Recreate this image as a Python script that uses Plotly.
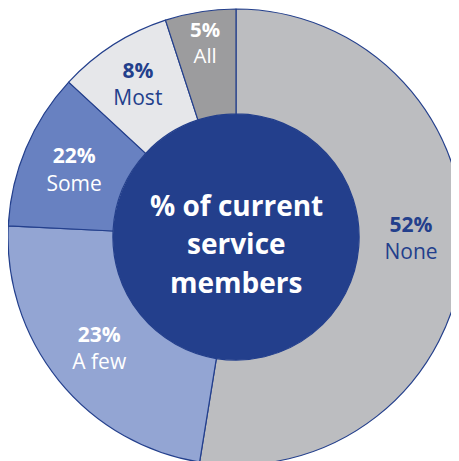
import plotly.graph_objects as go

# Data (slice angles) and printed labels
categories = ["None", "A few", "Some", "Most", "All"]
slice_values = [52.5, 23.2, 11.1, 8.1, 5.0]
pct_labels = ["52%", "23%", "22%", "8%", "5%"]
center_lines = ["% of current", "service", "members"]

slice_colors = ["#bcbdc0", "#93a5d3", "#6881c1", "#e6e7ea", "#9c9c9e"]
text_colors = ["#233f8c", "#ffffff", "#ffffff", "#233f8c", "#ffffff"]
NAVY = "#233f8c"

W, H = 459, 461
# outer ring placement in figure pixels (page adds an 8px body margin)
x0, x1 = 0, 456
y0, y1 = 1, 457
dom_x = [x0 / W, x1 / W]
dom_y = [1 - y1 / H, 1 - y0 / H]
cx = (x0 + x1) / 2
cy = (y0 + y1) / 2
R = (x1 - x0) / 2
hole = 0.54
r_in = R * hole

templates = ["<b>%{customdata}</b><br>%{label}<br> "] + \
            ["<b>%{customdata}</b><br>%{label}"] * 4

fig = go.Figure()
fig.add_trace(go.Pie(
    labels=categories,
    values=slice_values,
    customdata=pct_labels,
    texttemplate=templates,
    textposition="inside",
    insidetextorientation="horizontal",
    insidetextfont=dict(family="Open Sans", size=21, color=text_colors),
    sort=False,
    direction="clockwise",
    rotation=0,
    hole=hole,
    marker=dict(colors=slice_colors, line=dict(color=NAVY, width=1.2)),
    domain=dict(x=dom_x, y=dom_y),
    showlegend=False,
    hoverinfo="label+value",
))
fig.add_trace(go.Pie(
    labels=["center"],
    values=[1],
    textinfo="none",
    sort=False,
    marker=dict(colors=[NAVY], line=dict(width=0)),
    domain=dict(x=[(cx - r_in) / W, (cx + r_in) / W],
                y=[1 - (cy + r_in) / H, 1 - (cy - r_in) / H]),
    showlegend=False,
    hoverinfo="skip",
))

line_y = [197, 235, 274]
for txt, py in zip(center_lines, line_y):
    fig.add_annotation(
        x=cx / W, y=1 - py / H, xref="paper", yref="paper",
        text=f"<b>{txt}</b>", showarrow=False,
        xanchor="center", yanchor="middle",
        font=dict(family="Open Sans", size=28, color="#ffffff"),
    )

fig.update_layout(
    width=W, height=H,
    margin=dict(l=0, r=0, t=0, b=0),
    paper_bgcolor="#ffffff",
    plot_bgcolor="#ffffff",
)
fig.write_html("out.html")
